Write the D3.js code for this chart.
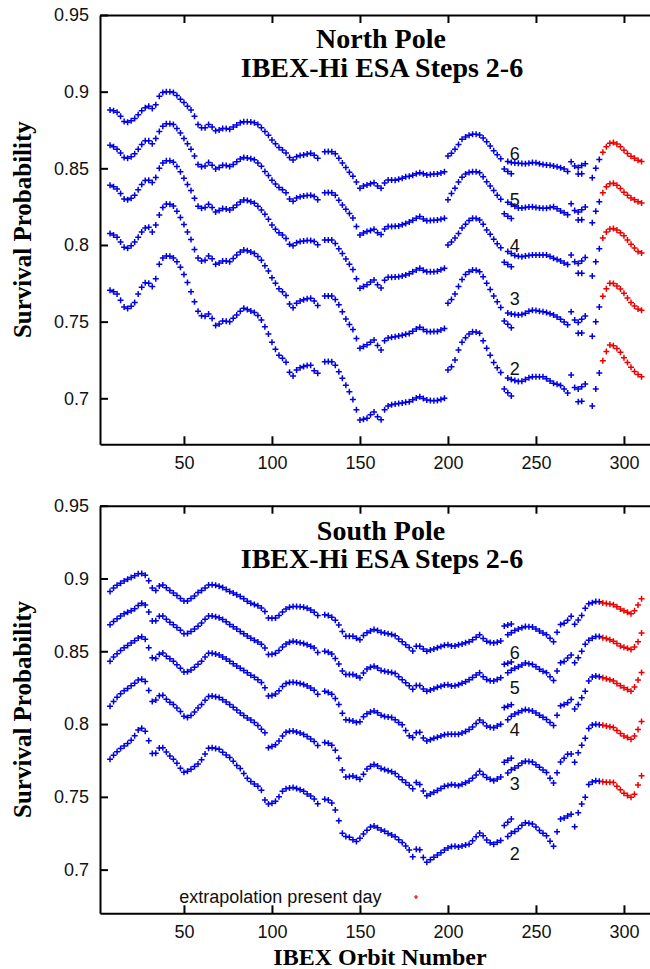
<!DOCTYPE html>
<html>
<head>
<meta charset="utf-8">
<script src="https://cdn.jsdelivr.net/npm/d3@7"></script>
<style>
  body { margin: 0; background: #fff; }
  .tickText { font-family: "Liberation Sans", Arial, sans-serif; font-size: 18px; fill: #111; }
  .titleText { font-family: "Liberation Serif", "Times New Roman", serif; font-weight: bold; fill: #000; }
</style>
</head>
<body>
<script>
// Orbit numbers sampled for every series (x values)
var orbits = [
  8, 10, 12, 14, 16, 18, 20, 22, 24, 26,
  28, 30, 32, 34, 36, 38, 40, 42, 44, 46,
  48, 50, 52, 54, 56, 58, 60, 62, 64, 66,
  68, 70, 72, 74, 76, 78, 80, 82, 84, 86,
  88, 90, 92, 94, 96, 98, 100, 102, 104, 106,
  108, 110, 112, 114, 116, 118, 120, 122, 124, 126,
  128, 130, 132, 134, 136, 138, 140, 142, 144, 146,
  148, 150, 152, 154, 156, 158, 160, 162, 164, 166,
  168, 170, 172, 174, 176, 178, 180, 182, 184, 186,
  188, 190, 192, 194, 196, 198, 200, 202, 204, 206,
  208, 210, 212, 214, 216, 218, 220, 222, 224, 226,
  228, 230, 232, 234, 236, 238, 240, 242, 244, 246,
  248, 250, 252, 254, 256, 258, 260, 262, 264, 266,
  268, 270, 272, 274, 276, 278, 280, 282, 284, 286,
  288, 290, 292, 294, 296, 298, 300, 302, 304, 306,
  308, 310
];

// Survival probability, in units of 0.001 (null = no data)
// North pole, ESA steps 6..2
var north6 = [
  888, 887.5, 886.5, 884, 880.5, 880, 881, 882.5, 885, 887.5,
  889.5, 890.5, 889, 891.5, 897, 899.5, 900, 900, 899.5, 897.5,
  895, 893, 890.5, 888, 884, 878.5, 876.5, 876.5, 878.5, 877,
  874.5, 875, 876, 876, 875.5, 877, 878.3, 879.8, 880.4, 880.4,
  880.2, 879.8, 878.5, 876.5, 874, 871.5, 868.5, 866, 863.5, 862,
  860, 857, 855.5, 857.5, 858.3, 858.7, 859.3, 859.8, 858.5, 856.5,
  null, 860.8, 861, 860.8, 859.5, 856.5, 853.5, 850.5, 847.5, 844.8,
  841, 837, 838.5, 839.2, 840, 840.6, 838.5, 837, 840.5, 842.4,
  842.4, 842.2, 842.8, 843.5, 844.5, 844.8, 845.5, 846.5, 847.1, 846.5,
  845.6, 846, 846.3, 846.3, 847, 847.8, 858, 859.8, 862.5, 865.5,
  869, 870.5, 871.5, 872.2, 872.3, 871.7, 869.8, 867.4, 864.5, 861.5,
  858.8, 856.3, null, 854.4, 853.8, 853.4, 853.3, 853.2, 853, 853.3,
  853.8, 853.7, 853, 852.5, 852.2, 852, 851.5, 851, 850.3, 849.5,
  848, 854.3, 851.5, 850.5, 851.8, 853, null, 843.8, 850, 855.8,
  860.5, 864, 866.3, 866.8, 865.9, 864, 861.8, 859.7, 857.9, 856.5,
  855.2, 854.5
];
var north5 = [
  865, 864, 862.5, 860, 857, 856.5, 857.5, 859.5, 862.5, 865.5,
  868, 868, 866, 869.5, 874, 877.5, 879, 879, 878.5, 876,
  873, 869.5, 866, 862.5, 858, 852.5, 851, 851.5, 853.8, 852,
  849.5, 850.5, 852, 851.8, 851.2, 852.5, 854.3, 856, 857, 856.8,
  856.3, 855.6, 853.5, 851.3, 848, 845.3, 842.3, 839.8, 837.5, 836,
  834, 830, 828.5, 830.6, 831.5, 832, 832.3, 832.5, 831.7, 829.5,
  null, 834.1, 834.3, 834.1, 832.5, 829.2, 826, 823.3, 820.5, 817.6,
  812, 806.5, 807.8, 808.8, 809.5, 810.2, 808, 806.8, 810.5, 812,
  812, 812.2, 812.4, 813.2, 814, 815, 816.2, 817.4, 818.5, 817,
  815.8, 816, 816.2, 816.3, 816.8, 817.4, 829.5, 833.5, 837, 841,
  844.2, 846.3, 847.2, 847.8, 847.7, 847.1, 844.5, 841.3, 838.5, 835.5,
  832.5, 829.8, null, 827.8, 826.5, 825.3, 824.2, 824.1, 824.5, 824.8,
  825, 824.5, 824.1, 823.9, 823.9, 824.5, 825, 823.6, 822.2, 821,
  819.7, 826.9, 822.5, 821.5, 823, 824.7, null, 814.5, 822, 828.2,
  834, 838, 840, 840.2, 839, 836.8, 834.4, 832.5, 830.7, 829.5,
  828.2, 827.4
];
var north4 = [
  839, 838, 836.5, 833.5, 830, 829.5, 830.5, 832.5, 836, 839.5,
  842, 842.3, 840.8, 844, 850, 853.5, 855, 855, 854, 851.2,
  847.8, 843.6, 839.5, 835.5, 830.5, 825.3, 824, 824.5, 826.5, 824.5,
  821.5, 822.5, 823.8, 823.5, 822.8, 824.3, 826.1, 828, 829.3, 829,
  828.2, 827.3, 825.2, 822.8, 820, 816.8, 813, 810.2, 808, 806.5,
  804.2, 800.5, 799.5, 801.5, 802.3, 802.6, 803, 803, 802.2, 800.2,
  null, 803.2, 803.3, 803.2, 801, 797.5, 794.5, 790.8, 787.5, 784,
  778, 771.7, 772.9, 774, 775.8, 777.2, 774, 772, 777, 779,
  779, 779.1, 779.3, 779.8, 780.5, 781.3, 782.5, 783.7, 784.8, 783.5,
  782.6, 782.5, 782.6, 782.8, 783.8, 784.8, 800, 802, 804.5, 807.5,
  811, 813.5, 816, 817.4, 817.3, 816.3, 813.5, 809.8, 807, 803.8,
  800.8, 798.2, null, 795.8, 794.5, 793.2, 792.6, 792.4, 792.8, 793.2,
  793.5, 793.5, 793.5, 793.5, 793.4, 792.5, 791.3, 790.5, 789.5, 788.3,
  787.2, 793.5, 789, 788, 789.5, 791.8, null, 779.8, 789, 797.5,
  804.5, 808.5, 810.5, 810.8, 809.8, 808, 806, 803.3, 800.5, 798,
  795.8, 794.7
];
var north3 = [
  807.5, 806.5, 805, 802, 798.5, 797.8, 799.5, 802, 805, 808.5,
  811, 811.5, 808.5, 813, 819.5, 824.5, 826.7, 826.5, 825.5, 822,
  818, 813.3, 808.5, 803.5, 797, 791.5, 789.5, 790, 792.8, 791,
  787.5, 788.3, 789.6, 789.5, 789.1, 791.2, 793.5, 795.5, 796.7, 796.2,
  795.5, 794.5, 792.5, 790, 786.5, 783, 778.6, 775, 771.5, 769.5,
  767, 761.5, 759, 762, 763.5, 764.2, 765, 765.2, 763.5, 760.5,
  null, 766.7, 766.8, 766.7, 764.5, 761, 756.5, 751.8, 748.2, 744.8,
  739, 732.6, 733.8, 734.9, 736.5, 738, 734.5, 731.5, 737.5, 739.3,
  739.8, 740.2, 740.6, 741.1, 741.7, 742.3, 743.8, 745.2, 746.3, 744.8,
  743.5, 743.4, 743.5, 743.6, 744.5, 745.6, 762, 764.5, 768, 773,
  777.5, 780.8, 782.6, 783.7, 783.5, 782.6, 779.2, 775, 771, 766.8,
  763, 759.3, null, 755.6, 755, 754.6, 754.3, 754.6, 755.5, 756.7,
  757.5, 757.2, 756.8, 756.5, 756, 755.2, 754.3, 753, 751.6, 749.8,
  748, 756.5, 751, 749.5, 751.5, 753.7, null, 740.5, 750, 759.5,
  766.5, 771.5, 775, 774.8, 773.3, 771.3, 768.5, 765.5, 762.5, 760.2,
  758.3, 757.4
];
var north2 = [
  770.5, 769.5, 768, 764, 759.5, 758.5, 760, 762.5, 768, 772.5,
  775.3, 775, 773, 778, 787.5, 791.5, 792.8, 792.6, 791.5, 789,
  785.5, 780.8, 775.5, 769.5, 763, 756.8, 753.8, 753.5, 755, 752,
  747.5, 748.5, 750.5, 750.3, 750, 752.2, 754.3, 756.7, 758.7, 758,
  757, 756, 754, 751, 746.7, 742, 736.5, 732, 728, 726.2,
  723.5, 717, 714.5, 718.5, 720, 720.8, 721.4, 721.5, 718, 716.4,
  null, 723.9, 724, 723.9, 721.5, 717.3, 713, 708.5, 704.2, 699.3,
  692.5, 685.8, 686.4, 687, 689.3, 691, 688, 686, 692.5, 695,
  695.8, 696.3, 696.6, 696.9, 697.4, 697.8, 699, 700.2, 701, 699.8,
  698.9, 698.6, 698.4, 698.5, 699.2, 700, 718.5, 720.5, 725, 731.5,
  736.5, 739.5, 742, 743.4, 743.3, 742.4, 737.5, 732.6, 728, 723.4,
  720, 716.8, null, 713.2, 712.3, 711.6, 711, 711.2, 712.3, 713.4,
  714.1, 714.1, 714.1, 714.1, 712.8, 711.3, 709.8, 709.2, 708.3, 706,
  703.5, 715.2, 707, 706, 707.5, 709.3, null, 695, 706, 716.5,
  724.5, 730.5, 734.8, 734.3, 732.5, 730, 726.5, 723.3, 720.2, 717.5,
  715.5, 714
];
// short offset pieces of the north curves
var northFragOrbits = [232, 234, 236, 274, 276];
var north6Frag = [849.5, 848, 846.5, 846.3, 846.5];
var north5Frag = [820.3, 818.8, 817.3, 816.3, 816.5];
var north4Frag = [788.8, 787.3, 785.8, 781.5, 781.5];
var north3Frag = [750.5, 748.3, 746, 742.4, 742.6];
var north2Frag = [706, 703.7, 701.5, 697.8, 698];

// South pole, ESA steps 6..2
var south6 = [
  891, 893.5, 895.3, 896.8, 898.3, 899.5, 900.7, 901.8, 903.2, 903.5,
  902.3, 898.5, 893.5, 891.8, 894.8, 895.5, 893.6, 891.8, 890, 888.3,
  886.3, 884.5, 884.5, 886.2, 888, 890.3, 891.8, 893.5, 895.5, 895.7,
  895.3, 894.7, 893.8, 892.5, 891.1, 890, 888.8, 887.6, 886, 884.4,
  883, 882.2, 881.3, 879.8, 877.4, 872.8, 872.6, 872.8, 874.5, 877,
  879, 880.2, 880.8, 880.7, 880.5, 880.3, 879.5, 878.3, 876.8, 874.6,
  null, 875.1, 874.5, 873.3, 871.3, 868, 863.5, 860.3, 860.3, 860.3,
  859, 858, 860.8, 862.8, 864, 864.9, 864.2, 863, 862.5, 862,
  861.6, 860.7, 858.5, 856.5, 854.5, 852.6, 850.2, 853.5, 853.5, 851.5,
  850, 850.8, 851.6, 852.5, 853.3, 854.2, 854.4, 853.6, 853.7, 854.4,
  855, 855.8, 856.6, 858, 859.7, 861.4, 858.8, 856.8, 856, 855.7,
  856.2, 857, null, 861.4, 862.8, 864.3, 865.3, 866.2, 867, 866.8,
  866.6, 865.3, 863.9, 862.6, 861.4, 859, 856.5, 863, 868.4, 869.2,
  871.3, 874, 868.5, 871.5, 874.5, 879.5, 882.6, 883.3, 884.2, 884,
  883.2, 882.8, 882.4, 882, 880.5, 879, 877.8, 876.8, 875.8, 877.8,
  881.8, 886
];
var south5 = [
  868.3, 870.5, 872.3, 874.2, 875.7, 876.8, 877.8, 879.2, 881.5, 883,
  881.8, 877, 870.8, 871, 874, 874.2, 872, 870, 868.3, 866.3,
  864.5, 862, 862.2, 863.5, 865.3, 867.2, 869.5, 872, 874.2, 874.3,
  873.8, 873, 871.8, 870.2, 868.4, 866.8, 865.3, 863.6, 862, 860.5,
  859, 857.5, 856.3, 854.8, 852.3, 847.7, 848, 848.6, 850.5, 853,
  855, 856.2, 856.8, 856.4, 855.8, 855.3, 854.5, 853.5, 852.2, 849.2,
  null, 850, 849.3, 848.1, 845, 841.2, 836.5, 834, 834, 834,
  833, 831.8, 835, 837.8, 839, 839.7, 838.5, 836.8, 836.2, 835.8,
  835.4, 834.7, 832.5, 830.4, 828.3, 826.4, 823.9, 826.5, 826.5, 824,
  822.6, 823.4, 824.3, 825.2, 826, 826.9, 827, 826.2, 826.3, 827,
  828, 829.1, 830.5, 832, 833.7, 835.2, 832.5, 830.6, 829.7, 829.6,
  830.6, 831.8, null, 835.2, 837, 838.3, 839.4, 840.6, 842, 841.5,
  840.9, 839.4, 837.7, 836.3, 835.2, 832.5, 830, 836.5, 842.2, 843,
  845.3, 847.5, 842.1, 845.5, 850, 854.8, 857.5, 859, 860.2, 860.2,
  859.3, 858.7, 858, 856.8, 855.4, 853.7, 852.8, 852, 851.2, 853,
  856.5, 862.5
];
var south4 = [
  843.2, 846, 848.3, 850.5, 852.5, 854, 855.6, 857.2, 859.2, 860,
  858.3, 852.5, 845.5, 845, 848, 848.8, 846.6, 844.8, 843.2, 840.7,
  838.4, 835.8, 836, 837.2, 839, 841, 843.2, 846, 848.6, 848.7,
  848.2, 847.4, 846, 844.7, 843.2, 841.5, 839.9, 838.4, 836.8, 835.2,
  833.6, 832.1, 830.5, 828.5, 825, 819.2, 819.6, 820.6, 822.8, 825.8,
  827.8, 828.5, 828.8, 828.4, 827.8, 827.1, 826.1, 824.8, 823.3, 820.5,
  null, 822.6, 821.6, 820.4, 817.5, 813.5, 807.5, 803, 802.6, 802.1,
  801, 801.5, 805, 807, 808.2, 808.9, 807.7, 806, 805.2, 804.8,
  804.5, 803, 801, 799.6, 795.5, 792, 790.8, 794, 794.4, 790.5,
  788.4, 789.3, 790.2, 791, 791.8, 792.7, 793, 793, 793, 793,
  793.9, 794.9, 796.2, 798, 800.3, 802.8, 801, 798.6, 797.8, 797.4,
  798.6, 799.8, null, 803, 805.4, 806.9, 808, 809.2, 810, 809.5,
  808.9, 807.6, 806, 804.6, 803.2, 801, 799, 806, 812.5, 813.5,
  814.6, 816.9, 810.3, 813.5, 818, 822.5, 829.5, 832.3, 833, 832.5,
  831.8, 831.2, 830.4, 829.5, 827.8, 826.3, 825, 823.8, 822.6, 825.5,
  830.3, 835.5
];
var south3 = [
  812.3, 815.5, 818.5, 820.8, 822.8, 824.5, 826.3, 828, 830.3, 830.8,
  829.2, 823, 815.5, 816.5, 819.5, 819.8, 817, 815, 813.5, 811,
  808.6, 805.3, 804.5, 805.8, 808.3, 811, 813.5, 816.3, 819, 819.2,
  818.8, 818.2, 816.7, 815.1, 813.5, 811.5, 809.6, 807.6, 805.9, 804.2,
  802.8, 801, 799, 796.5, 794, 783.8, 784.5, 785.8, 788.3, 791.8,
  794.3, 795, 795.2, 794.6, 793.8, 792.9, 791.5, 789.8, 788, 785.2,
  null, 787.3, 786.8, 785.4, 782, 776.5, 768.5, 763.6, 764, 764.3,
  763.3, 762.1, 765.5, 769.2, 771, 772.2, 771.2, 769.5, 768.7, 768,
  767.2, 766, 763.8, 761.8, 759.8, 757.9, 755.5, 759.8, 758.5, 754,
  750.7, 751.9, 753.1, 754.4, 755.7, 757.2, 757.8, 758.5, 758.2, 757.6,
  758.6, 759.7, 760.8, 762.8, 765, 767.5, 765.3, 763.3, 762, 761,
  762.3, 763.6, null, 766.4, 768.6, 769.8, 771.3, 773.2, 774.5, 774.3,
  774, 772.1, 770.3, 768.5, 766.7, 762.8, 759.5, 766.5, 774, 776.5,
  779.2, 779.5, 773.8, 780.3, 785.5, 790.3, 797, 799.4, 799.8, 799.6,
  799.1, 798.7, 798.2, 797.6, 795.5, 793.5, 791.8, 790.7, 789.6, 791.8,
  796.3, 801.8
];
var south2 = [
  775.8, 778.5, 781, 783.2, 785, 786.6, 788.8, 792, 796, 797.2,
  795, 788.5, 779.8, 780, 783.5, 783.8, 780.8, 778, 775.8, 773,
  769.6, 766.9, 767.6, 768.9, 770.8, 772.5, 775.5, 779.5, 783.3, 783.7,
  783.2, 782.7, 780.7, 778.8, 777, 774.5, 771.5, 769.5, 766, 762.8,
  760.6, 758.8, 757.3, 754.5, 747.8, 745, 745.6, 747, 750, 753.8,
  755.5, 756, 756.4, 755.8, 754.8, 753.9, 752, 750.5, 748.6, 745.2,
  null, 748.4, 747.8, 745.8, 741, 733.5, 725, 722.7, 722.2, 720.6,
  719.3, 721.6, 724.5, 727, 729.2, 730, 728.8, 727.2, 726.4, 724.8,
  723.8, 722.6, 720.5, 718.6, 716.2, 713.5, 708.8, 714, 713.6, 708.3,
  705.1, 706.8, 708.5, 710, 711.6, 713.5, 714.8, 715.9, 716.1, 715.5,
  716.2, 716.9, 717.5, 719.8, 722.6, 725.2, 723.2, 720.3, 718.5, 717.5,
  718.8, 720, null, 722.8, 725, 726.2, 728, 730.5, 732.2, 731.8,
  731.4, 729.2, 726.9, 725, 723.3, 719.5, 716, 726, 734.8, 735.5,
  736.8, 738, 729.5, 739, 745, 749.8, 758.5, 760.2, 761, 760.7,
  760.3, 760.1, 760, 759.9, 757.3, 754.8, 752.5, 751, 749.8, 751.8,
  758.2, 764.5
];
var southFragOrbits = [232, 234, 236];
var south6Frag = [867.3, 868, 868.8];
var south5Frag = [841, 841.8, 842.7];
var south4Frag = [811.3, 812.3, 813.2];
var south3Frag = [773.8, 775.2, 776.5];
var south2Frag = [730.3, 732.5, 734.7];

var stepNames = ["6", "5", "4", "3", "2"];
// label positions (probability) of the step numbers
var northLabelY = [0.8598, 0.8293, 0.7993, 0.7652, 0.7196];
var southLabelY = [0.8489, 0.8249, 0.7964, 0.7587, 0.7108];
var labelOrbit = 238;

var xTicks = [50, 100, 150, 200, 250, 300];
var yTicks = [0.7, 0.75, 0.8, 0.85, 0.9, 0.95];
var extrapStart = 288;   // orbits from here on are extrapolated (red)

// Set up svg
var svgWidth = 650;
var svgHeight = 969;

var svg = d3.select("body")
  .append("svg")
  .attr("width", svgWidth)
  .attr("height", svgHeight);

var xScale = d3.scaleLinear().domain([2.3, 314.8]).range([100, 650]);

var panels = [
  { title: "North Pole", top: 15, bottom: 444.3, titleY: [48.3, 76.7],
    series: [north6, north5, north4, north3, north2],
    frags: [north6Frag, north5Frag, north4Frag, north3Frag, north2Frag],
    fragOrbits: northFragOrbits, labelY: northLabelY },
  { title: "South Pole", top: 505.7, bottom: 913.3, titleY: [539.5, 567.8],
    series: [south6, south5, south4, south3, south2],
    frags: [south6Frag, south5Frag, south4Frag, south3Frag, south2Frag],
    fragOrbits: southFragOrbits, labelY: southLabelY }
];

var plus = "M-3,0H3M0,-3V3";

panels.forEach(function(p, pi) {
  var yScale = d3.scaleLinear().domain([0.67, 0.95]).range([p.bottom, p.top]);
  var g = svg.append("g");

  // markers
  p.series.forEach(function(vals, si) {
    var pts = [];
    orbits.forEach(function(o, i) {
      if (vals[i] != null) pts.push({ o: o, v: vals[i] / 1000 });
    });
    p.fragOrbits.forEach(function(o, i) {
      pts.push({ o: o, v: p.frags[si][i] / 1000 });
    });
    g.append("g").selectAll("path")
      .data(pts)
      .enter()
      .append("path")
      .attr("d", plus)
      .attr("transform", d => `translate(${xScale(d.o)},${yScale(d.v)})`)
      .attr("fill", "none")
      .attr("stroke", d => d.o >= extrapStart ? "#ee0000" : "#0000e6")
      .attr("stroke-width", 1.5);
  });

  // step number labels
  g.selectAll(".stepLabel")
    .data(stepNames)
    .enter()
    .append("text")
    .attr("class", "tickText")
    .attr("x", xScale(labelOrbit))
    .attr("y", (d, i) => yScale(p.labelY[i]))
    .attr("dy", "0.35em")
    .attr("text-anchor", "middle")
    .text(d => d);

  // axes
  var leftAxis = d3.axisLeft(yScale).tickValues(yTicks).tickSize(-8).tickSizeOuter(0)
    .tickPadding(11).tickFormat(d => String(d));
  var bottomAxis = d3.axisBottom(xScale).tickValues(xTicks).tickSize(-8).tickSizeOuter(0)
    .tickPadding(12.2);
  var topAxis = d3.axisTop(xScale).tickValues(xTicks).tickSize(-8).tickSizeOuter(0)
    .tickFormat("");

  var ga = g.append("g").attr("transform", "translate(100,0)").call(leftAxis);
  var gb = g.append("g").attr("transform", `translate(0,${p.bottom})`).call(bottomAxis);
  var gt = g.append("g").attr("transform", `translate(0,${p.top})`).call(topAxis);
  [ga, gb, gt].forEach(function(a) {
    a.select(".domain").attr("stroke", "#000").attr("stroke-width", 2);
    a.selectAll(".tick line").attr("stroke", "#000").attr("stroke-width", 2);
    a.selectAll(".tick text").attr("class", "tickText").attr("font-size", null).attr("font-family", null);
  });

  // titles
  g.append("text").attr("class", "titleText")
    .attr("x", 381).attr("y", p.titleY[0])
    .attr("text-anchor", "middle").style("font-size", "28px")
    .text(p.title);
  g.append("text").attr("class", "titleText")
    .attr("x", 382).attr("y", p.titleY[1])
    .attr("text-anchor", "middle").style("font-size", "28px")
    .text("IBEX-Hi ESA Steps 2-6");

  // y axis title
  g.append("text").attr("class", "titleText")
    .attr("transform", `translate(30.5,${(p.top + p.bottom) / 2}) rotate(-90)`)
    .attr("text-anchor", "middle").style("font-size", "25px")
    .text("Survival Probability");
});

// legend for the extrapolation
svg.append("text").attr("class", "tickText")
  .attr("x", 179.3).attr("y", 903)
  .text("extrapolation present day");
svg.append("path")
  .attr("d", "M-2,0H2M0,-2V2")
  .attr("transform", "translate(416,897)")
  .attr("stroke", "#ee0000").attr("stroke-width", 1.2);

// x axis title
svg.append("text").attr("class", "titleText")
  .attr("x", 380).attr("y", 965)
  .attr("text-anchor", "middle").style("font-size", "24px")
  .text("IBEX Orbit Number");
</script>
</body>
</html>
